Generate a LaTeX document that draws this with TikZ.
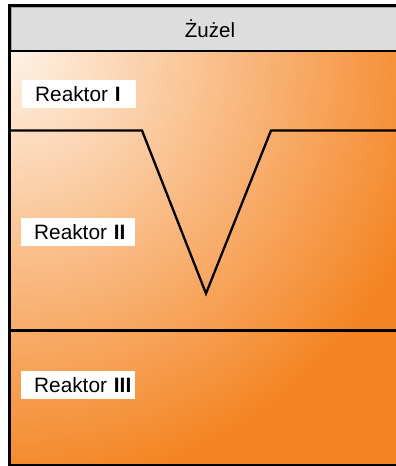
\documentclass[tikz,border=0pt]{standalone}
\usepackage{fontspec}
\setmainfont{Liberation Sans}
\usetikzlibrary{positioning}
\definecolor{slaglight}{RGB}{254,242,230}
\definecolor{slagorange}{RGB}{244,132,34}
\definecolor{headgray}{RGB}{221,221,221}

\begin{document}
\begin{tikzpicture}[x=1pt, y=-1pt,
    reactor/.style={rectangle, fill=white, anchor=north west, minimum height=28pt,
      inner xsep=0pt, inner ysep=0pt, text width=114pt, align=left,
      execute at begin node=\hspace*{13pt}, font=\fontsize{20.8}{24}\selectfont},
    header/.style={font=\fontsize{20.5}{24}\selectfont},
    frame/.style={line width=3pt},
    boundary/.style={line width=2.3pt, line join=miter}
  ]
    \useasboundingbox (0,0) rectangle (396,466);
    \clip (0,0) rectangle (396,466);

    % slag and reactor body
    \fill[slagorange] (11,52) rectangle (400,465);
    \begin{scope}
      \clip (11,52) rectangle (400,465);
      \shade[inner color=slaglight, outer color=slagorange] (11,52) circle (440pt);
    \end{scope}
    \fill[headgray, draw=gray!70, line width=0.8pt] (11.5,7) rectangle (400,51);
    \node[header] (zuzel) at (210,29) {Żużel};

    % zone boundaries
    \coordinate (vleft) at (142,130.5);
    \coordinate (vtip) at (206,293.5);
    \coordinate (vright) at (271,130.5);
    \draw[boundary] (11,130.5) -- (vleft) -- (vtip) -- (vright) -- (400,130.5);
    \draw[boundary] (11,330.5) -- (400,330.5);
    \draw[line width=2pt] (11,51) -- (400,51);

    % outer wall
    \draw[frame] (9.5,470) -- (9.5,5.5) -- (400,5.5);
    \draw[line width=2pt] (9.5,465) -- (400,465);

    \node[reactor] (r1) at (22,80) {Reaktor \textbf{I}};
    \node[reactor] (r2) at (21,218) {Reaktor \textbf{II}};
    \node[reactor] (r3) at (21,371) {Reaktor \textbf{III}};
  \end{tikzpicture}
\end{document}
